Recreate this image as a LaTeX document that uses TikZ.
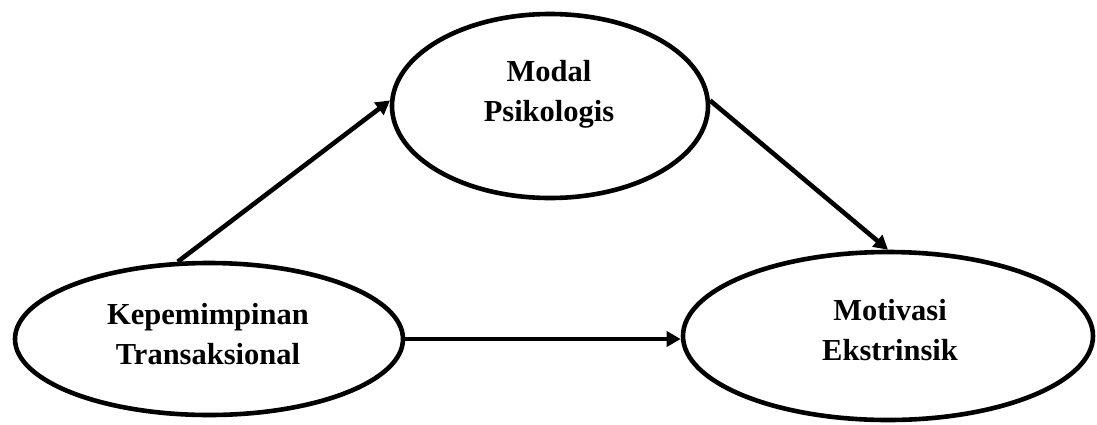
\documentclass[tikz,border=0pt]{standalone}
\usepackage{fontspec}
\setmainfont{Liberation Serif}
\usetikzlibrary{shapes.geometric,arrows.meta}
\begin{document}
\begin{tikzpicture}[x=1pt,y=-1pt,
  oval/.style={ellipse,draw=black,line width=4.6pt,inner sep=0pt},
  lbl/.style={align=center,font=\fontsize{30.5}{40}\selectfont\bfseries,inner sep=0pt},
  conn/.style={line width=4.6pt,-{Triangle[length=14pt,width=15pt]}}]
\useasboundingbox (0,0) rectangle (1097,424);
\node[oval,minimum width=316pt,minimum height=184pt] (mp) at (550,106) {};
\node[oval,minimum width=388pt,minimum height=152pt] (kt) at (209,339) {};
\node[oval,minimum width=410pt,minimum height=168pt] (me) at (888,336) {};
\node[lbl] (tmp) at (549,94) {Modal\\Psikologis};
\node[lbl] (tkt) at (208,334) {Kepemimpinan\\Transaksional};
\node[lbl] (tme) at (890,330) {Motivasi\\Ekstrinsik};
\draw[conn] (kt.112) -- (mp.178);
\draw[conn] (mp.2) -- (me.north);
\draw[conn] (kt.east) -- (kt.east -| me.west);
\end{tikzpicture}
\end{document}
